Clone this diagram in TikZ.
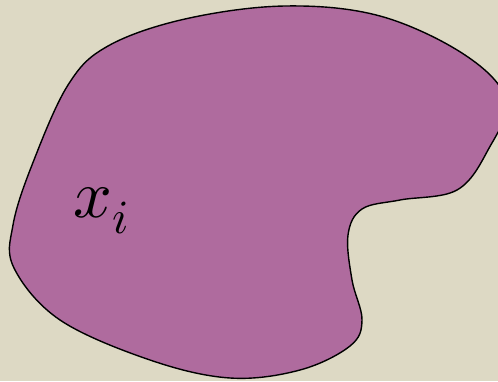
\documentclass[tikz,border=0pt]{standalone}
\usepackage{unicode-math}
\setmathfont{Latin Modern Math}
\definecolor{bgc}{RGB}{221,217,196}
\definecolor{blobc}{RGB}{175,107,158}
\begin{document}
\begin{tikzpicture}[x=1pt,y=-1pt,
  blob/.style={fill=blobc,draw=black,line width=1.4pt},
  lbl/.style={inner sep=0pt,anchor=base west,font=\fontsize{68}{72}\selectfont}]
\useasboundingbox (0,0) rectangle (498,381);
\fill[bgc] (0,0) rectangle (498,381);
\clip (0,0) rectangle (498,381);
\draw[blob] plot[smooth cycle,tension=0.6] coordinates {
 (285,6) (380,16) (465,55) (506,100) (488,150) (457,190) (400,200) (362,209)
 (348,235) (352,280) (362,320) (350,346) (300,370) (230,378) (150,360)
 (60,320) (14,268) (13,225) (32,165) (68,85) (108,46) (185,19)};
\node[lbl] (xi) at (73,217) {$x_i$};
\end{tikzpicture}
\end{document}
